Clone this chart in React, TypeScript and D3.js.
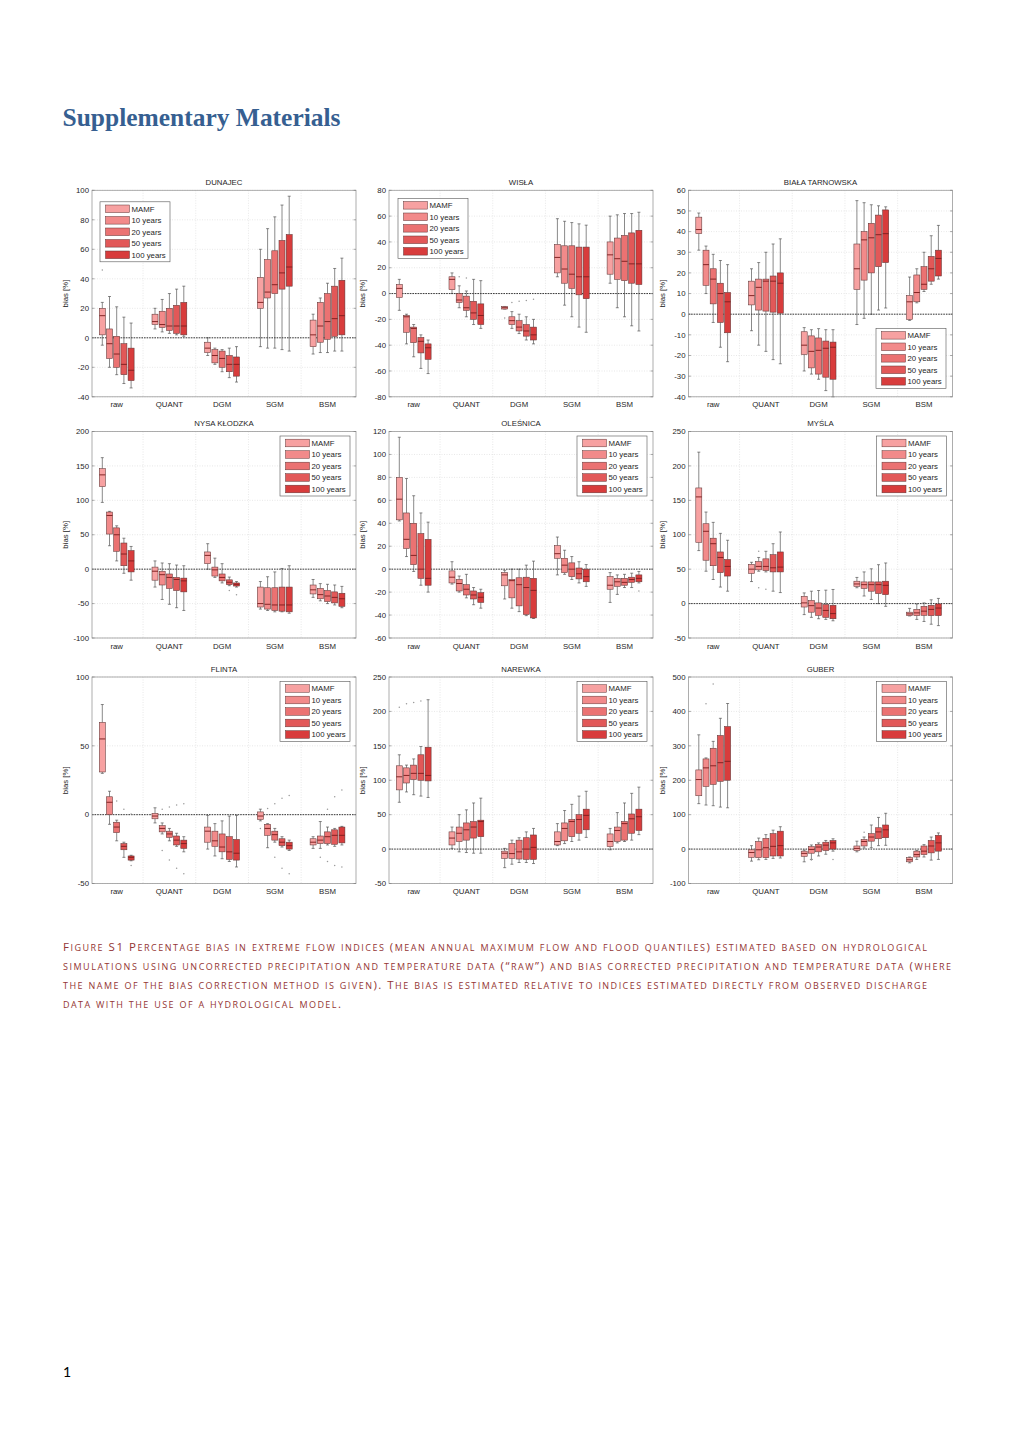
import React from 'react';
import * as d3 from 'd3';

// ---------- categories / series ----------
const methods = ['raw', 'QUANT', 'DGM', 'SGM', 'BSM'];
const seriesNames = ['MAMF', '10 years', '20 years', '50 years', '100 years'];
const seriesColors = ['#f7a1a1', '#f28a8a', '#eb7272', '#e25858', '#d83c3c'];

// each box: [lowWhisker, q1, median, q3, highWhisker]; rows = methods, cols = series
const dunajecStats = [
  [[-5, 2, 15, 20, 24], [-20, -14, -4, 6, 28], [-25, -20, -11, 1, 21], [-31, -25, -18, -4, 14], [-34, -29, -22, -7, 10]],
  [[6, 9, 11, 16, 20], [4, 7, 9, 18, 26], [3, 5, 8, 20, 30], [2, 3, 8, 22, 33], [1, 2, 8, 24, 35]],
  [[-12, -10, -7, -3, 0], [-18, -17, -12, -8, -7], [-23, -20, -14, -9, -8], [-27, -23, -18, -12, -7], [-30, -26, -18, -13, -6]],
  [[-6, 20, 24, 41, 60], [-7, 27, 31, 53, 74], [-7, 30, 36, 59, 82], [-8, 33, 44, 66, 90], [-9, 35, 48, 70, 96]],
  [[-11, -6, 2, 12, 16], [-10, -3, 8, 24, 27], [-10, -1, 11, 30, 37], [-9, 1, 13, 35, 47], [-9, 2, 15, 39, 54]],
];
const dunajecOutliers = [[0, 0, 46]];
const dunajecTicks = [-40, -20, 0, 20, 40, 60, 80, 100];

const wislaStats = [
  [[-13, -3, 4, 7, 11], [-39, -30, -18, -17, -16], [-49, -38, -27, -26, -24], [-58, -46, -37, -34, -32], [-62, -51, -42, -39, -36]],
  [[0, 3, 11, 13, 16], [-11, -7, -5, 0, 6], [-18, -13, -11, -2, 2], [-24, -20, -15, -6, 11], [-27, -24, -17, -8, 10]],
  [[-12, -12, -11, -10, -10], [-27, -24, -21, -18, -14], [-31, -29, -26, -21, -16], [-36, -33, -29, -24, -18], [-39, -36, -32, -26, -20]],
  [[13, 16, 28, 38, 58], [-9, 8, 19, 37, 56], [-18, 4, 15, 37, 55], [-26, -1, 13, 36, 54], [-30, -4, 13, 36, 53]],
  [[8, 15, 30, 40, 60], [-11, 11, 27, 43, 61], [-18, 10, 25, 45, 62], [-25, 8, 23, 47, 62], [-29, 7, 23, 49, 63]],
];
const wislaOutliers = [[1, 1, 13], [1, 2, 12], [2, 0, -19], [2, 1, -7], [2, 2, -6], [2, 3, -5.4], [2, 4, -4.4]];
const wislaTicks = [-80, -60, -40, -20, 0, 20, 40, 60, 80];

const bialaStats = [
  [[31, 39, 41, 47, 49], [10, 14, 24, 31, 33], [-4, 5, 17, 22, 29], [-16, -4, 10, 15, 26], [-23, -9, 6, 10.5, 24]],
  [[-8, 4.5, 9, 16, 22], [-15, 2, 13, 17, 25], [-18, 1.5, 16, 17, 30], [-22, 1, 16, 18.5, 34], [-24, 0.5, 15, 20, 36.5]],
  [[-27.5, -19.5, -15, -8.5, -6.5], [-29, -26, -18, -10.5, -7.5], [-31.5, -29, -17.5, -11.5, -7], [-37, -30.5, -16.5, -13, -7.5], [-40, -31.5, -16, -13.5, -7.5]],
  [[-5, 12, 22, 34, 55], [-2, 16.5, 36, 40, 54], [0, 20, 37, 44, 53], [2, 23, 38.5, 48, 52.5], [3, 25, 39, 50.5, 52]],
  [[-3, -2.5, 6, 9, 18], [5.5, 6, 10.5, 19, 22], [11, 12, 14.5, 23, 30], [14.5, 16, 22, 28, 38], [17, 18.5, 27, 31, 43]],
];
const bialaOutliers: number[][] = [];
const bialaTicks = [-40, -30, -20, -10, 0, 10, 20, 30, 40, 50, 60];

const nysaStats = [
  [[97, 120, 137, 146, 162], [34, 51, 78, 83, 84], [12, 26, 50, 60, 63], [-6, 5, 22, 38, 45], [-16, -4, 12, 27, 33]],
  [[-26, -16, -3, 3, 12], [-44, -23, -8, -3, 9], [-51, -28, -12, -7, 8], [-56, -31, -15, -12, 6], [-60, -33, -17, -13, 5]],
  [[0, 8, 20, 25, 37], [-12, -10, -1, 3, 16], [-20, -17, -12, -7, 8], [-24, -22.5, -19, -15.5, -11.5], [-26, -24.5, -22, -20, -18]],
  [[-58, -55, -50, -26, -18], [-60, -58, -51, -27, -11], [-62, -60, -52, -27, -4], [-62, -61, -52, -26, 1], [-64, -62, -52, -26, 5]],
  [[-41, -36, -30, -23, -15], [-46, -43, -37, -28, -21], [-50, -47, -39, -31, -22], [-52, -49, -41, -33, -23], [-56, -54, -43, -35, -25]],
];
const nysaOutliers = [[2, 3, -31], [2, 4, -37]];
const nysaTicks = [-100, -50, 0, 50, 100, 150, 200];

const olesnicaStats = [
  [[42, 43, 61, 80, 115], [11, 18, 26, 49, 79], [-2, 4, 12, 40, 64], [-14, -8, 0, 31, 49], [-20, -14, -8, 26, 41]],
  [[-13, -12, -7, -1.5, 6.5], [-20, -19, -12.5, -9, -6], [-25, -22.5, -17.5, -13.5, -4.5], [-31, -26, -22.5, -19, -16], [-34, -29, -24.5, -20.5, -17.5]],
  [[-26, -14.5, -5, -3, -1], [-34, -25, -10, -9, 0], [-37, -32, -13.5, -7.5, 0], [-40.5, -39.5, -16, -7, 3.5], [-43, -42.5, -18.5, -8, 7]],
  [[-5, 9.5, 13.5, 20.5, 28], [-4.5, -3, 3.5, 9.5, 16.5], [-9, -6.5, 0, 5.5, 11], [-12, -8.5, -4, 1, 6.5], [-15, -11, -6.5, 0, 4]],
  [[-29, -17.5, -14, -6.5, -3], [-22, -15, -11, -8, -5], [-16, -14, -11.5, -8, -4.5], [-16, -11.5, -9, -7, -3.5], [-12, -11, -8, -5, -2]],
];
const olesnicaOutliers = [[4, 4, -19]];
const olesnicaTicks = [-60, -40, -20, 0, 20, 40, 60, 80, 100, 120];

const myslaStats = [
  [[77, 89, 155, 168, 220], [47, 63, 105, 116, 133], [35, 55, 87, 95, 118], [24, 45, 67, 75, 102], [18, 40, 54, 64, 92]],
  [[32, 44, 50, 57, 60], [47, 49, 54, 61, 67], [46, 48, 54, 65, 76], [18, 46, 52, 71, 87], [16, 46, 53, 75, 104]],
  [[-16, -5, 1, 10.5, 15.5], [-20, -12.5, -3, 4.5, 18], [-22, -17, -6.5, 1, 19], [-23, -20, -10, -1.5, 19.5], [-25, -22, -14.5, -2.5, 20.5]],
  [[23, 25, 28.5, 32.5, 38], [11, 22, 27.5, 31.5, 46], [6, 18, 27.5, 31.5, 50.5], [0, 14.5, 27.5, 31.5, 56.5], [-4, 13, 26.5, 32.5, 59]],
  [[-18, -17.5, -15, -12.5, -7], [-23, -17.5, -13.5, -8.5, -0.5], [-26, -17, -11, -4, 1], [-30, -17.5, -8.5, -2.5, 5.5], [-32, -17.5, -6.5, -0.5, 7.5]],
];
const myslaOutliers = [[1, 1, 76], [1, 1, 23], [1, 2, 21]];
const myslaTicks = [-50, 0, 50, 100, 150, 200, 250];

const flintaStats = [
  [[30, 31, 55, 67, 80], [-7, 0, 9, 13, 17], [-19, -13, -9, -5.5, -4], [-31, -25.5, -23, -21, -20], [-33.5, -33, -31, -30, -29.5]],
  [[-6, -3, -1, 1, 5], [-14, -12.5, -10, -8, -6], [-19, -16.5, -14, -12, -10], [-23, -22, -18.5, -15.5, -13.5], [-27, -24.5, -21, -18.5, -16]],
  [[-25, -20, -12, -9, -0.5], [-30, -23, -19, -12, -6.5], [-32, -27, -23.5, -14, -4.5], [-34, -32.5, -27, -16, -1], [-38, -33, -28, -18, -0.5]],
  [[-4.5, -3.5, -1, 2, 4], [-24, -15, -10, -7, -6.5], [-20, -18.5, -14.5, -12, -10], [-23.5, -22.5, -20, -17.5, -16], [-26, -25, -22.5, -20, -18.5]],
  [[-24.5, -22, -20, -17.5, -16], [-24.5, -21, -18.5, -15.5, -5], [-22, -21, -16, -12.5, -9], [-23, -21.5, -15, -11, -10], [-22, -20.5, -15, -9, -8.5]],
];
const flintaOutliers = [
  [0, 2, 10], [0, 3, 4], [0, 4, 0.5], [0, 4, -37],
  [1, 1, 4], [1, 1, -26], [1, 2, 5.5], [1, 2, -33], [1, 3, 7], [1, 3, -39], [1, 4, 8], [1, 4, -43],
  [3, 0, -10], [3, 1, 4.5], [3, 2, 8], [3, 2, -31], [3, 3, 12], [3, 3, -39], [3, 4, 14], [3, 4, -43],
  [4, 1, -31], [4, 2, 4], [4, 2, -34], [4, 3, 13], [4, 3, -37], [4, 4, 18], [4, 4, -38],
];
const flintaTicks = [-50, 0, 50, 100];

const narewkaStats = [
  [[68, 86, 105, 121, 137], [83, 96, 107, 118, 122], [79, 101, 110, 122, 131], [77, 100, 110, 137, 149], [75, 99, 107, 148, 217]],
  [[1, 6, 16, 25, 32], [-4, 11, 23, 32, 50], [-5, 13, 28, 38, 57], [-6, 16, 32, 40, 67], [-6, 18, 40, 42, 74]],
  [[-27, -13.5, -6, -3, 1], [-22, -13.5, -6.5, 8, 13], [-19.5, -14.5, -4, 13, 16.5], [-19.5, -15, 0, 16.5, 25], [-21, -15, 2.5, 20.5, 30]],
  [[5, 6, 11, 25, 37], [8, 12, 30, 38, 56], [11, 18, 40, 43, 65], [13, 23, 43, 50, 77], [17, 28, 49, 58, 84]],
  [[-1, 3.5, 11, 22, 30], [9, 11, 27, 32, 53], [11, 13, 37, 40, 67], [13, 23, 44, 51, 81], [21, 27, 47, 58, 90]],
];
const narewkaOutliers = [[0, 0, 206], [0, 1, 211], [0, 2, 213], [0, 3, 215]];
const narewkaTicks = [-50, 0, 50, 100, 150, 200, 250];

const guberStats = [
  [[132, 155, 202, 230, 332], [128, 182, 236, 262, 265], [126, 188, 242, 293, 313], [122, 197, 251, 330, 380], [120, 200, 255, 356, 423]],
  [[-35, -24, -10, -2, 10], [-31, -25, -2, 22, 32], [-30, -25, 4, 31, 42], [-27, -20, 8, 45, 55], [-26, -20, 10, 52, 65]],
  [[-37, -21, -12.5, -6, -3], [-30, -12, -1, 7, 12], [-20, -8, 6, 13.5, 18], [-15, -4, 11.5, 20, 25], [-6, 0, 18, 25, 30]],
  [[-8, -4, 2, 9, 23], [3, 9, 22, 28, 35], [4, 23, 35, 45, 70], [10, 30, 50, 62, 92], [11, 33, 56, 70, 104]],
  [[-40, -37, -31, -25, -23], [-30, -23, -16, -6, -4], [-23, -16, -6, 9, 13], [-32, -11, 9, 25, 35], [-30, -6, 18, 40, 47]],
];
const guberOutliers = [[0, 1, 422], [0, 2, 480], [2, 1, -32], [2, 4, -30], [3, 1, 49]];
const guberTicks = [-100, 0, 100, 200, 300, 400, 500];

const captionLines = [
  'Figure S1 Percentage bias in extreme flow indices (mean annual maximum flow and flood quantiles) estimated based on hydrological',
  'simulations using uncorrected precipitation and temperature data (\u201Craw\u201D) and bias corrected precipitation and temperature data (where',
  'the name of the bias correction method is given).  The bias is estimated relative to indices estimated directly from observed discharge',
  'data with the use of a hydrological model.',
];
const captionWidths = [864, 888, 864, 278];

// ---------- layout ----------
const W = 1020;
const H = 1443;
const colX = [92, 389, 688.5];
const rowY = [190.3, 431.5, 677];
const plotW = 264;
const plotH = 206.5;
const FONT = '"Liberation Sans", Arial, Helvetica, sans-serif';
const TXT = '#262626';

type Legend = { corner: 'nw' | 'ne' | 'se'; dx: number; dy: number };

const panels = [
  { title: 'DUNAJEC', stats: dunajecStats, outliers: dunajecOutliers, ticks: dunajecTicks, legend: { corner: 'nw', dx: 8, dy: 11.5 } as Legend },
  { title: 'WISŁA', stats: wislaStats, outliers: wislaOutliers, ticks: wislaTicks, legend: { corner: 'nw', dx: 9, dy: 8 } as Legend },
  { title: 'BIAŁA TARNOWSKA', stats: bialaStats, outliers: bialaOutliers, ticks: bialaTicks, legend: { corner: 'se', dx: 6.5, dy: 8.5 } as Legend },
  { title: 'NYSA KŁODZKA', stats: nysaStats, outliers: nysaOutliers, ticks: nysaTicks, legend: { corner: 'ne', dx: 6, dy: 4.5 } as Legend },
  { title: 'OLEŚNICA', stats: olesnicaStats, outliers: olesnicaOutliers, ticks: olesnicaTicks, legend: { corner: 'ne', dx: 6, dy: 4.5 } as Legend },
  { title: 'MYŚLA', stats: myslaStats, outliers: myslaOutliers, ticks: myslaTicks, legend: { corner: 'ne', dx: 6, dy: 4.5 } as Legend },
  { title: 'FLINTA', stats: flintaStats, outliers: flintaOutliers, ticks: flintaTicks, legend: { corner: 'ne', dx: 6, dy: 4.5 } as Legend },
  { title: 'NAREWKA', stats: narewkaStats, outliers: narewkaOutliers, ticks: narewkaTicks, legend: { corner: 'ne', dx: 6, dy: 4.5 } as Legend },
  { title: 'GUBER', stats: guberStats, outliers: guberOutliers, ticks: guberTicks, legend: { corner: 'ne', dx: 6, dy: 4.5 } as Legend },
];

const LEG_W = 70;
const LEG_H = 60;

function Panel({ cfg, x0, y0 }: { cfg: typeof panels[number]; x0: number; y0: number }) {
  const { title, stats, outliers, ticks, legend } = cfg;
  const y = d3.scaleLinear().domain([ticks[0], ticks[ticks.length - 1]]).range([plotH, 0]);
  const xg = d3.scalePoint<string>().domain(methods).range([24.7, 235.5]);
  const gstep = xg.step();
  const sub = d3.scaleLinear().domain([0, 4]).range([-2 * 7.2, 2 * 7.2]);
  const bw = 6;
  const cap = 3;
  const boundaries = methods.slice(1).map((m) => (xg(m) as number) - gstep / 2);

  let lx = 0, ly = 0;
  if (legend.corner === 'nw') { lx = legend.dx; ly = legend.dy; }
  else if (legend.corner === 'ne') { lx = plotW - legend.dx - LEG_W; ly = legend.dy; }
  else { lx = plotW - legend.dx - LEG_W; ly = plotH - legend.dy - LEG_H; }

  return (
    <g transform={`translate(${x0},${y0})`} fontFamily={FONT}>
      <rect x={0} y={0} width={plotW} height={plotH} fill="#fff" />
      {ticks.map((t) => (
        <line key={'h' + t} x1={0} x2={plotW} y1={y(t)} y2={y(t)} stroke="#d9d9d9" strokeWidth={0.6} strokeDasharray="1,1.5" />
      ))}
      {boundaries.map((b, i) => (
        <line key={'v' + i} x1={b} x2={b} y1={0} y2={plotH} stroke="#d9d9d9" strokeWidth={0.6} strokeDasharray="1,1.5" />
      ))}
      <line x1={0} x2={plotW} y1={y(0)} y2={y(0)} stroke="#222" strokeWidth={0.9} strokeDasharray="1.6,1" />
      {stats.map((grp, gi) =>
        grp.map((s, si) => {
          const cx = (xg(methods[gi]) as number) + sub(si);
          const [lo, q1, med, q3, hi] = s;
          return (
            <g key={gi + '-' + si}>
              <line x1={cx} x2={cx} y1={y(hi)} y2={y(q3)} stroke="#4a4a4a" strokeWidth={0.65} />
              <line x1={cx} x2={cx} y1={y(q1)} y2={y(lo)} stroke="#4a4a4a" strokeWidth={0.65} />
              <line x1={cx - cap / 2} x2={cx + cap / 2} y1={y(hi)} y2={y(hi)} stroke="#4a4a4a" strokeWidth={0.65} />
              <line x1={cx - cap / 2} x2={cx + cap / 2} y1={y(lo)} y2={y(lo)} stroke="#4a4a4a" strokeWidth={0.65} />
              <rect x={cx - bw / 2} y={y(q3)} width={bw} height={Math.max(0.8, y(q1) - y(q3))} fill={seriesColors[si]} stroke="#5e3434" strokeWidth={0.55} />
              <line x1={cx - bw / 2} x2={cx + bw / 2} y1={y(med)} y2={y(med)} stroke="#7e2020" strokeWidth={0.95} />
            </g>
          );
        })
      )}
      {outliers.map((o, i) => (
        <circle key={'o' + i} cx={(xg(methods[o[0]]) as number) + sub(o[1])} cy={y(o[2])} r={0.75} fill="#9a9a9a" />
      ))}
      <rect x={0} y={0} width={plotW} height={plotH} fill="none" stroke="#9a9a9a" strokeWidth={0.8} />
      {ticks.map((t) => (
        <g key={'t' + t}>
          <line x1={0} x2={2.5} y1={y(t)} y2={y(t)} stroke="#777" strokeWidth={0.6} />
          <line x1={plotW - 2.5} x2={plotW} y1={y(t)} y2={y(t)} stroke="#777" strokeWidth={0.6} />
          <text x={-3} y={y(t)} dy="0.35em" fontSize={7.8} textAnchor="end" fill={TXT}>{t}</text>
        </g>
      ))}
      {methods.map((m) => (
        <text key={m} x={xg(m)} y={plotH + 10.5} fontSize={7.8} textAnchor="middle" fill={TXT}>{m}</text>
      ))}
      <text x={plotW / 2} y={-5.2} fontSize={7.8} textAnchor="middle" fill={TXT}>{title}</text>
      <text transform={`translate(${-24},${plotH / 2}) rotate(-90)`} fontSize={7.8} textAnchor="middle" fill={TXT}>bias [%]</text>
      <g transform={`translate(${lx},${ly})`}>
        <rect x={0} y={0} width={LEG_W} height={LEG_H} fill="#fff" stroke="#555" strokeWidth={0.6} />
        {seriesNames.map((n, i) => {
          const cy = 7 + i * 11.5;
          return (
            <g key={n}>
              <rect x={5.5} y={cy - 3.8} width={24} height={7.6} fill={seriesColors[i]} stroke="#5e3434" strokeWidth={0.5} />
              <text x={31.5} y={cy} dy="0.36em" fontSize={7.8} fill={TXT}>{n}</text>
            </g>
          );
        })}
      </g>
    </g>
  );
}

function smallCapsRuns(line: string) {
  const runs = line.match(/[a-z]+|[^a-z]+/g) || [];
  return runs.map((r) => ({ text: r.toUpperCase(), small: /^[a-z]+$/.test(r) }));
}

export default function App() {
  return (
    <svg width={W} height={H} viewBox={`0 0 ${W} ${H}`} style={{ display: 'block', position: 'absolute', left: 0, top: 0, background: '#fff' }}>
      <rect x={0} y={0} width={W} height={H} fill="#fff" />
      <text x={62.5} y={125.5} fontFamily='"Liberation Serif", "DejaVu Serif", serif' fontWeight="bold" fontSize={25} fill="#365F91" textLength={278} lengthAdjust="spacingAndGlyphs">
        Supplementary Materials
      </text>
      {panels.map((p, i) => (
        <Panel key={p.title} cfg={p} x0={colX[i % 3]} y0={rowY[Math.floor(i / 3)]} />
      ))}
      {captionLines.map((line, i) => (
        <text
          key={i}
          x={63}
          y={950.5 + i * 19}
          fontFamily='"Open Sans", Lato, sans-serif'
          fontSize={11.5}
          fill="#943634"
          textLength={captionWidths[i]}
          lengthAdjust="spacing"
        >
          {smallCapsRuns(line).map((r, k) => (
            <tspan key={k} fontSize={r.small ? 9 : 11.5}>{r.text}</tspan>
          ))}
        </text>
      ))}
      <text x={63} y={1377} fontFamily='Lato, "Liberation Sans", sans-serif' fontSize={14} fill="#000">1</text>
    </svg>
  );
}
